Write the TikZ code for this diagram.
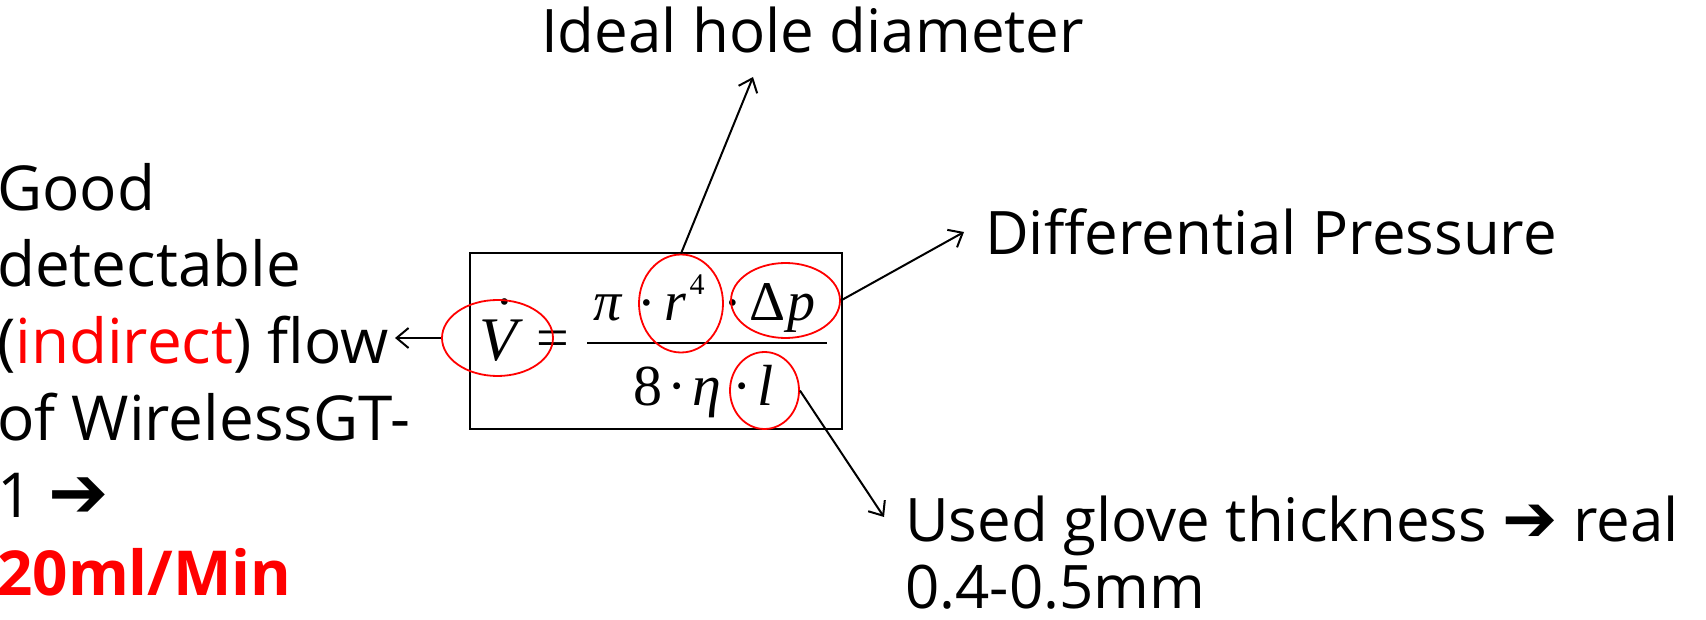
\documentclass[tikz,border=0pt]{standalone}
\usepackage{fontspec}
\usepackage{graphicx}
\setmainfont{Open Sans}
\newfontfamily\fsr{Liberation Serif}
\newfontfamily\fsym{DejaVu Sans}
\usetikzlibrary{shapes.geometric,arrows.meta}
\definecolor{myred}{RGB}{255,0,0}
\tikzset{
  txt/.style={inner sep=0pt, anchor=base west, font=\fontsize{60}{76}\selectfont},
  ltxt/.style={inner sep=0pt, anchor=base west, font=\fontsize{62}{76}\selectfont},
  num/.style={inner sep=0pt, anchor=base, font=\fsr\fontsize{56}{56}\selectfont},
  den/.style={inner sep=0pt, anchor=base, font=\fsr\fontsize{58}{58}\selectfont},
  supfont/.style={inner sep=0pt, anchor=base, font=\fsr\fontsize{30}{30}\selectfont},
  ring/.style={ellipse, draw=myred, line width=1.8pt, inner sep=0pt},
  arr/.style={draw, line width=2pt, -{Straight Barb[length=12pt,width=20pt]}},
}
\begin{document}
\begin{tikzpicture}[x=1pt,y=-1pt]
\useasboundingbox (0,0) rectangle (1706,620);
\fill[white] (0,0) rectangle (1706,620);

% left text
\node[ltxt] (l1) at (-3,211) {Good};
\node[ltxt] (l2) at (-3,287) {detectable};
\node[ltxt] (l3) at (-3,363) {(\textcolor{myred}{indirect}) flow};
\node[ltxt] (l4) at (-3,440) {of WirelessGT-};
\node[ltxt] (l5) at (-3,517) {1 {\fsym\fontsize{72}{72}\selectfont ➔}};
\node[ltxt, text=myred] (l6) at (-3,595) {\bfseries 20ml/Min};

% right texts
\node[txt] (ideal) at (541,53) {Ideal hole diameter};
\node[txt] (diff) at (985,255) {Differential Pressure};
\node[txt] (used1) at (905,541) {Used glove thickness {\fsym\fontsize{66}{66}\selectfont ➔} real};
\node[txt] (used2) at (905,608) {0.4-0.5mm};

% box
\node[draw, line width=2pt, minimum width=372pt, minimum height=176pt, inner sep=0pt] (box) at (656,341) {};

% formula
\node[inner sep=0pt, anchor=base, font=\fsr\fontsize{62}{62}\selectfont] (V) at (498,361)
  {\itshape V\makebox[0pt][r]{\raisebox{40pt}{\fontsize{56}{56}\selectfont\upshape ·}\hspace{3pt}}};
\node[den] (eq) at (552.5,358) {=};
\node[num] (pi) at (608,321) {\itshape π};
\node[num] (d1) at (647,322) {·};
\node[num] (r) at (675,321) {\itshape r};
\node[supfont] (four) at (697,295) {4};
\node[num] (d2) at (733,322) {·};
\node[num] (Delta) at (767.5,321) {Δ};
\node[num] (p) at (801,321) {\itshape p};
\draw[line width=2pt] (587,343) -- (827,343);
\node[den] (eight) at (647.5,405) {8};
\node[den] (d3) at (677,405) {·};
\node[den] (eta) at (706.5,405) {\itshape η};
\node[den] (d4) at (742,405) {·};
\node[den] (ell) at (765.5,405) {\itshape l};

% red rings
\node[ring, minimum width=111pt, minimum height=76pt] (eV) at (497.5,338) {};
\node[ring, minimum width=84pt, minimum height=98pt] (eR) at (681,303.5) {};
\node[ring, minimum width=109pt, minimum height=75pt] (eDp) at (785.5,300.5) {};
\node[ring, minimum width=69pt, minimum height=77pt] (eL) at (764.5,390.5) {};

% connectors
\coordinate (tV) at (395,338);
\coordinate (tR) at (753,77);
\coordinate (tDp) at (964,232);
\coordinate (tL) at (884,517);
\draw[arr] (eV.west) -- (tV);
\draw[arr] (eR.north) -- (tR);
\draw[arr] (eDp.east) -- (tDp);
\draw[arr] (eL.east) -- (tL);
\end{tikzpicture}
\end{document}
